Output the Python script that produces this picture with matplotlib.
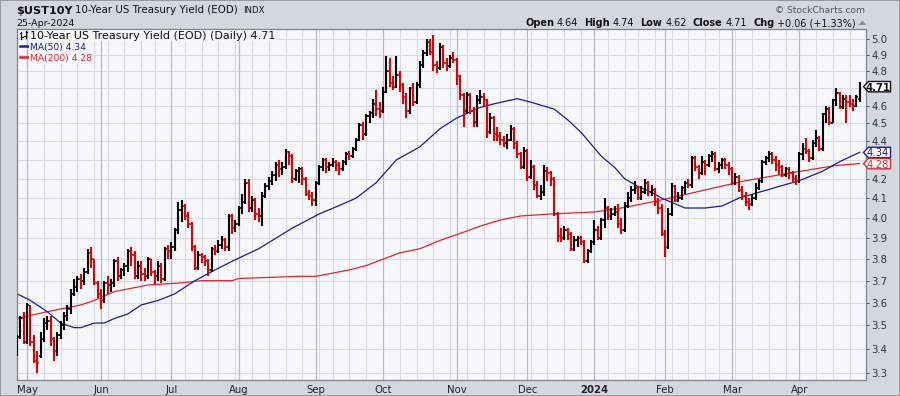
import numpy as np
import pandas as pd
import matplotlib
matplotlib.use("Agg")
import matplotlib.pyplot as plt
from matplotlib.collections import LineCollection
from matplotlib.patches import Polygon, Rectangle
from matplotlib.lines import Line2D

W, H = 900, 396

# ---------------- data ----------------
holidays = ['2023-05-29', '2023-06-19', '2023-07-04', '2023-09-04', '2023-11-23',
            '2023-12-25', '2024-01-01', '2024-01-15', '2024-02-19', '2024-03-29']
dates = pd.bdate_range('2023-04-26', '2024-04-25')
dates = dates[~dates.isin(pd.to_datetime(holidays))]

opens = [
    3.41, 3.45, 3.53,
    3.43, 3.58, 3.43, 3.35, 3.37, 3.44, 3.51, 3.52, 3.44, 3.39, 3.46, 3.50, 3.54, 3.57, 3.64, 3.67, 3.71, 3.70, 3.74, 3.83, 3.80, 3.69,
    3.64, 3.61, 3.69, 3.68, 3.69, 3.79, 3.72, 3.75, 3.77, 3.84, 3.82, 3.72, 3.77, 3.73, 3.72, 3.80, 3.74, 3.72, 3.77, 3.71, 3.85,
    3.84, 3.86, 3.94, 4.04, 4.06, 4.01, 3.97, 3.86, 3.76, 3.82, 3.81, 3.79, 3.75, 3.85, 3.84, 3.87, 3.89, 3.86, 4.01, 3.95,
    3.97, 4.05, 4.08, 4.18, 4.05, 4.09, 4.02, 4.01, 4.11, 4.16, 4.19, 4.22, 4.27, 4.25, 4.26, 4.34, 4.32, 4.20, 4.24, 4.25, 4.20, 4.12, 4.11,
    4.09, 4.18, 4.26, 4.30, 4.26, 4.27, 4.29, 4.27, 4.25, 4.29, 4.33, 4.32, 4.36, 4.41, 4.49, 4.44, 4.54, 4.56, 4.61, 4.58,
    4.57, 4.68, 4.80, 4.73, 4.71, 4.78, 4.72, 4.65, 4.57, 4.70, 4.62, 4.72, 4.84, 4.91, 4.98, 4.92, 4.84, 4.82, 4.95, 4.85, 4.83, 4.88,
    4.87, 4.77, 4.66, 4.57, 4.66, 4.57, 4.51, 4.63, 4.65, 4.63, 4.45, 4.53, 4.44, 4.43, 4.41, 4.39, 4.41, 4.47, 4.39, 4.33, 4.26,
    4.35, 4.21, 4.26, 4.17, 4.11, 4.13, 4.24, 4.23, 4.20, 4.02, 3.91, 3.90, 3.94, 3.92, 3.85, 3.89, 3.90, 3.88, 3.79, 3.84,
    3.88, 3.94, 3.90, 3.99, 4.05, 4.01, 4.02, 4.03, 3.97, 3.94, 4.06, 4.10, 4.14, 4.15, 4.10, 4.13, 4.18, 4.13, 4.14, 4.08, 4.05,
    3.92, 3.86, 4.02, 4.16, 4.09, 4.10, 4.15, 4.18, 4.17, 4.31, 4.26, 4.23, 4.29, 4.27, 4.32, 4.33, 4.25, 4.27, 4.30, 4.27,
    4.25, 4.18, 4.21, 4.14, 4.11, 4.08, 4.07, 4.10, 4.15, 4.19, 4.29, 4.31, 4.33, 4.30, 4.27, 4.26, 4.22, 4.25, 4.23, 4.20,
    4.19, 4.33, 4.36, 4.35, 4.31, 4.39, 4.42, 4.36, 4.55, 4.58, 4.50, 4.63, 4.67, 4.59, 4.64, 4.62, 4.61, 4.60, 4.64,
]
highs = [
    3.46, 3.54, 3.56,
    3.60, 3.59, 3.46, 3.39, 3.47, 3.53, 3.54, 3.54, 3.45, 3.47, 3.52, 3.56, 3.59, 3.66, 3.71, 3.72, 3.73, 3.76, 3.85, 3.86, 3.80, 3.70,
    3.66, 3.70, 3.72, 3.71, 3.80, 3.81, 3.76, 3.78, 3.85, 3.86, 3.84, 3.79, 3.79, 3.76, 3.81, 3.80, 3.75, 3.79, 3.78, 3.86, 3.87,
    3.88, 3.95, 4.08, 4.09, 4.07, 4.03, 3.98, 3.87, 3.84, 3.83, 3.82, 3.80, 3.86, 3.87, 3.89, 3.91, 3.90, 4.02, 4.02, 3.99,
    4.06, 4.12, 4.20, 4.20, 4.11, 4.10, 4.05, 4.13, 4.18, 4.21, 4.24, 4.29, 4.30, 4.29, 4.36, 4.35, 4.33, 4.25, 4.26, 4.26, 4.21, 4.14, 4.13,
    4.19, 4.27, 4.31, 4.31, 4.29, 4.31, 4.30, 4.29, 4.30, 4.34, 4.35, 4.37, 4.42, 4.50, 4.51, 4.55, 4.57, 4.64, 4.69, 4.62,
    4.71, 4.89, 4.88, 4.77, 4.89, 4.80, 4.73, 4.67, 4.71, 4.73, 4.74, 4.86, 4.93, 5.00, 5.00, 5.02, 4.86, 4.97, 4.96, 4.88, 4.90, 4.92,
    4.88, 4.78, 4.67, 4.68, 4.67, 4.59, 4.66, 4.69, 4.67, 4.64, 4.56, 4.54, 4.48, 4.45, 4.43, 4.44, 4.49, 4.48, 4.40, 4.34, 4.37,
    4.36, 4.30, 4.27, 4.19, 4.17, 4.27, 4.26, 4.24, 4.21, 4.03, 3.95, 3.96, 3.95, 3.93, 3.91, 3.91, 3.91, 3.89, 3.85, 3.89,
    3.99, 3.96, 4.00, 4.10, 4.06, 4.05, 4.06, 4.07, 4.00, 4.08, 4.13, 4.16, 4.19, 4.16, 4.16, 4.20, 4.19, 4.17, 4.15, 4.10, 4.07,
    3.94, 4.05, 4.18, 4.17, 4.13, 4.16, 4.19, 4.20, 4.32, 4.32, 4.27, 4.32, 4.30, 4.33, 4.35, 4.34, 4.29, 4.31, 4.31, 4.29,
    4.26, 4.23, 4.22, 4.16, 4.13, 4.10, 4.12, 4.18, 4.20, 4.30, 4.32, 4.35, 4.34, 4.32, 4.30, 4.27, 4.26, 4.26, 4.24, 4.22,
    4.34, 4.39, 4.42, 4.36, 4.41, 4.46, 4.43, 4.56, 4.60, 4.59, 4.64, 4.70, 4.68, 4.66, 4.66, 4.66, 4.64, 4.66, 4.74,
]
lows = [
    3.37, 3.44, 3.42,
    3.42, 3.41, 3.34, 3.30, 3.36, 3.43, 3.48, 3.41, 3.35, 3.37, 3.44, 3.48, 3.52, 3.55, 3.63, 3.65, 3.66, 3.68, 3.73, 3.76, 3.68, 3.62,
    3.57, 3.60, 3.64, 3.65, 3.67, 3.70, 3.71, 3.72, 3.74, 3.77, 3.71, 3.71, 3.70, 3.70, 3.71, 3.72, 3.68, 3.70, 3.69, 3.70, 3.80,
    3.80, 3.84, 3.92, 3.98, 3.99, 3.95, 3.84, 3.75, 3.75, 3.78, 3.77, 3.72, 3.74, 3.82, 3.83, 3.85, 3.84, 3.84, 3.92, 3.93,
    3.96, 4.02, 4.07, 4.03, 4.03, 3.99, 3.98, 3.96, 4.10, 4.14, 4.17, 4.19, 4.21, 4.22, 4.25, 4.27, 4.18, 4.19, 4.18, 4.17, 4.11, 4.09, 4.06,
    4.06, 4.17, 4.24, 4.23, 4.24, 4.26, 4.24, 4.22, 4.24, 4.27, 4.30, 4.31, 4.35, 4.40, 4.41, 4.43, 4.50, 4.53, 4.54, 4.53,
    4.56, 4.67, 4.71, 4.69, 4.70, 4.68, 4.61, 4.53, 4.55, 4.60, 4.61, 4.70, 4.82, 4.89, 4.90, 4.80, 4.79, 4.81, 4.82, 4.80, 4.82, 4.85,
    4.72, 4.63, 4.48, 4.55, 4.55, 4.48, 4.48, 4.61, 4.60, 4.42, 4.44, 4.40, 4.40, 4.38, 4.37, 4.36, 4.40, 4.36, 4.31, 4.25, 4.25,
    4.19, 4.20, 4.14, 4.10, 4.09, 4.11, 4.19, 4.16, 4.01, 3.88, 3.88, 3.89, 3.89, 3.84, 3.84, 3.86, 3.87, 3.78, 3.78, 3.83,
    3.87, 3.89, 3.89, 3.95, 3.99, 3.99, 4.01, 3.95, 3.92, 3.93, 4.05, 4.08, 4.12, 4.09, 4.09, 4.12, 4.11, 4.11, 4.06, 4.02, 3.91,
    3.81, 3.85, 4.01, 4.08, 4.08, 4.09, 4.12, 4.15, 4.15, 4.24, 4.20, 4.22, 4.22, 4.26, 4.29, 4.24, 4.23, 4.25, 4.25, 4.22,
    4.17, 4.17, 4.13, 4.09, 4.06, 4.04, 4.06, 4.09, 4.14, 4.18, 4.27, 4.29, 4.28, 4.24, 4.22, 4.21, 4.21, 4.20, 4.18, 4.17,
    4.18, 4.30, 4.33, 4.29, 4.30, 4.37, 4.35, 4.35, 4.50, 4.49, 4.50, 4.60, 4.58, 4.58, 4.50, 4.59, 4.57, 4.59, 4.62,
]
closes = [
    3.45, 3.53, 3.44,
    3.59, 3.43, 3.35, 3.34, 3.44, 3.51, 3.52, 3.44, 3.39, 3.46, 3.50, 3.54, 3.57, 3.64, 3.67, 3.71, 3.70, 3.74, 3.83, 3.80, 3.69, 3.64,
    3.61, 3.69, 3.68, 3.69, 3.79, 3.72, 3.75, 3.77, 3.84, 3.82, 3.72, 3.77, 3.73, 3.72, 3.80, 3.74, 3.72, 3.77, 3.71, 3.85, 3.84,
    3.86, 3.94, 4.04, 4.06, 4.01, 3.97, 3.86, 3.76, 3.82, 3.81, 3.79, 3.75, 3.85, 3.84, 3.87, 3.89, 3.86, 4.01, 3.95, 3.97,
    4.05, 4.08, 4.18, 4.05, 4.09, 4.02, 4.01, 4.11, 4.16, 4.19, 4.22, 4.27, 4.25, 4.26, 4.34, 4.32, 4.20, 4.24, 4.25, 4.20, 4.12, 4.11, 4.09,
    4.18, 4.26, 4.30, 4.26, 4.27, 4.29, 4.27, 4.25, 4.29, 4.33, 4.32, 4.36, 4.41, 4.49, 4.44, 4.54, 4.56, 4.61, 4.58, 4.57,
    4.68, 4.80, 4.73, 4.71, 4.78, 4.72, 4.65, 4.57, 4.70, 4.62, 4.72, 4.84, 4.91, 4.98, 4.92, 4.84, 4.82, 4.95, 4.85, 4.83, 4.88, 4.87,
    4.77, 4.66, 4.57, 4.66, 4.57, 4.51, 4.63, 4.65, 4.63, 4.45, 4.53, 4.44, 4.43, 4.41, 4.39, 4.41, 4.47, 4.39, 4.33, 4.26, 4.35,
    4.21, 4.26, 4.17, 4.11, 4.13, 4.24, 4.23, 4.20, 4.02, 3.91, 3.90, 3.94, 3.92, 3.85, 3.89, 3.90, 3.88, 3.79, 3.84, 3.88,
    3.94, 3.90, 3.99, 4.05, 4.01, 4.02, 4.03, 3.97, 3.94, 4.06, 4.10, 4.14, 4.15, 4.10, 4.13, 4.18, 4.13, 4.14, 4.08, 4.05, 3.92,
    3.86, 4.02, 4.16, 4.09, 4.10, 4.15, 4.18, 4.17, 4.31, 4.26, 4.23, 4.29, 4.27, 4.32, 4.33, 4.25, 4.27, 4.30, 4.27, 4.25,
    4.18, 4.21, 4.14, 4.11, 4.08, 4.07, 4.10, 4.15, 4.19, 4.29, 4.31, 4.33, 4.30, 4.27, 4.26, 4.22, 4.25, 4.23, 4.20, 4.19,
    4.33, 4.36, 4.35, 4.31, 4.39, 4.42, 4.36, 4.55, 4.58, 4.50, 4.63, 4.67, 4.59, 4.64, 4.62, 4.61, 4.60, 4.65, 4.71,
]

# moving averages (bar index, value)
ma50_idx = [0, 4, 9, 13, 17, 19, 23, 26, 29, 33, 37, 42, 47, 53, 59, 64, 72, 82, 90, 97, 101, 107, 113, 120,
            126, 131, 138, 142, 149, 153, 160, 164, 168, 174, 178, 181, 185, 189, 192, 199, 205, 210, 215,
            221, 227, 233, 240, 245, 251]
ma50_val = [3.64, 3.61, 3.56, 3.51, 3.49, 3.49, 3.51, 3.51, 3.53, 3.55, 3.59, 3.61, 3.64, 3.70, 3.75, 3.79,
            3.85, 3.95, 4.02, 4.07, 4.10, 4.18, 4.30, 4.37, 4.47, 4.53, 4.59, 4.61, 4.64, 4.62, 4.58, 4.52,
            4.45, 4.32, 4.26, 4.20, 4.16, 4.13, 4.10, 4.05, 4.05, 4.06, 4.10, 4.13, 4.16, 4.19, 4.24, 4.29, 4.34]
ma200_idx = [0, 9, 19, 23, 29, 39, 49, 55, 64, 66, 84, 89, 99, 104, 109, 114, 120, 126, 133, 138, 144,
             150, 159, 172, 180, 189, 197, 207, 217, 227, 237, 244, 251]
ma200_val = [3.53, 3.56, 3.59, 3.61, 3.65, 3.68, 3.69, 3.70, 3.70, 3.71, 3.72, 3.72, 3.75, 3.77, 3.80, 3.83,
             3.85, 3.89, 3.93, 3.96, 3.99, 4.01, 4.02, 4.03, 4.05, 4.08, 4.11, 4.15, 4.19, 4.22, 4.25, 4.27, 4.28]

ytick_vals = [3.3, 3.4, 3.5, 3.6, 3.7, 3.8, 3.9, 4.0, 4.1, 4.2, 4.3, 4.4, 4.5, 4.6, 4.7, 4.8, 4.9, 5.0]
hidden_ticks = [4.3, 4.7]   # covered by the value tags on the right

# ---------------- styling ----------------
OUTER = '#d3d7e0'
PLOT_BG = '#f6f7fb'
GRID = '#d9dbe3'
GRID_M = '#b7bbc4'
UP = '#000000'
DOWN = '#e00000'
NAVY = '#1c1c96'
MARED = '#e3242b'
FONT = 'DejaVu Sans'


def fx(x):
    return x / W


def fy(y):
    return 1 - y / H


fig = plt.figure(figsize=(W / 100, H / 100), dpi=100)
fig.patch.set_facecolor(OUTER)

L, R, T, B = 16.7, 865.7, 29.0, 380.0
ax = fig.add_axes([fx(L), fy(B), (R - L) / W, (B - T) / H])
ax.set_facecolor(PLOT_BG)
ax.set_yscale('log')
ax.set_ylim(3.27, 5.06)
n = len(closes)
ax.set_xlim(-0.1, 252.8)

# grid
for v in ytick_vals:
    ax.axhline(v, color=GRID, lw=0.8, zorder=0.5)
month_idx = [i for i in range(1, n) if dates[i].month != dates[i - 1].month]
week_idx = [i for i in range(1, n)
            if dates[i].to_period('W') != dates[i - 1].to_period('W') and i not in month_idx]
for i in week_idx:
    ax.axvline(i, color=GRID, lw=0.8, zorder=0.5)
for i in month_idx:
    ax.axvline(i, color=GRID_M, lw=0.9, zorder=0.6)

# moving averages
ax.plot(ma200_idx, ma200_val, color=MARED, lw=0.9, zorder=2)
ax.plot(ma50_idx, ma50_val, color=NAVY, lw=0.9, zorder=2)

# OHLC bars
xs = np.arange(n)
cols = []
for i in range(n):
    prev = closes[i - 1] if i > 0 else opens[0]
    cols.append(DOWN if closes[i] < prev else UP)
vsegs = [[(xs[i], lows[i]), (xs[i], highs[i])] for i in range(n)]
osegs = [[(xs[i] - 0.5, opens[i]), (xs[i], opens[i])] for i in range(n)]
csegs = [[(xs[i], closes[i]), (xs[i] + 0.5, closes[i])] for i in range(n)]
ax.add_collection(LineCollection(vsegs, colors=cols, linewidths=1.5, zorder=3, capstyle='butt'))
ax.add_collection(LineCollection(osegs, colors=cols, linewidths=1.2, zorder=3, capstyle='butt'))
ax.add_collection(LineCollection(csegs, colors=cols, linewidths=1.2, zorder=3, capstyle='butt'))

# axes ticks
ax.minorticks_off()
ax.yaxis.tick_right()
ax.set_yticks(ytick_vals)
ax.set_yticklabels(['' if v in hidden_ticks else f'{v:.1f}' for v in ytick_vals])
ax.yaxis.set_minor_locator(matplotlib.ticker.NullLocator())
ax.tick_params(axis='y', which='both', length=2.5, width=0.6, pad=1.5, labelsize=7.3,
               colors='#333333', direction='out')
ax.set_xticks(month_idx)
ax.set_xticklabels(['2024' if dates[i].month == 1 else dates[i].strftime('%b') for i in month_idx])
ax.tick_params(axis='x', length=0, pad=3.5, labelsize=7.3, colors='#222222')
for lbl in ax.get_xticklabels():
    lbl.set_fontfamily(FONT)
    if lbl.get_text() == '2024':
        lbl.set_fontweight('bold')
for lbl in ax.get_yticklabels():
    lbl.set_fontfamily(FONT)
for s in ['top', 'left']:
    ax.spines[s].set_color('#7c8089')
    ax.spines[s].set_linewidth(0.9)
for s in ['right', 'bottom']:
    ax.spines[s].set_color('#80848d')
    ax.spines[s].set_linewidth(0.9)
    ax.spines[s].set_linestyle((0, (1.5, 1)))

# legend text inside plot
bb = dict(facecolor=PLOT_BG, edgecolor='none', pad=0.6)
fig.text(fx(30), fy(38.6), '10-Year US Treasury Yield (EOD) (Daily) 4.71', fontsize=8.0,
         family=FONT, color='#111111', va='baseline', ha='left', bbox=bb)
fig.text(fx(29.5), fy(49.8), 'MA(50) 4.34', fontsize=6.6, family=FONT, color=NAVY,
         va='baseline', ha='left', bbox=bb)
fig.text(fx(29.5), fy(60.8), 'MA(200) 4.28', fontsize=6.6, family=FONT, color=MARED,
         va='baseline', ha='left', bbox=bb)
fig.add_artist(Line2D([fx(20), fx(28)], [fy(46.3), fy(46.3)], color=NAVY, lw=1.8))
fig.add_artist(Line2D([fx(20), fx(28)], [fy(57.3), fy(57.3)], color=MARED, lw=1.8))
# small OHLC glyph
for (a, b) in [((21, 31.5), (21, 38.5)), ((19.5, 33), (21, 33)), ((21, 36.5), (22.5, 36.5)),
               ((25.5, 30.5), (25.5, 37.5)), ((24, 36), (25.5, 36)), ((25.5, 32), (27, 32))]:
    fig.add_artist(Line2D([fx(a[0]), fx(b[0])], [fy(a[1]), fy(b[1])], color='#111111', lw=0.9))

# header
fig.text(fx(16), fy(13.6), '$UST10Y', fontsize=8.1, fontweight='bold', family=FONT,
         color='#111111', va='baseline')
fig.text(fx(75), fy(13.4), '10-Year US Treasury Yield (EOD)', fontsize=7.4, family=FONT,
         color='#111111', va='baseline')
fig.text(fx(243), fy(13.2), 'INDX', fontsize=6.2, family=FONT, color='#111111', va='baseline')
fig.text(fx(16), fy(26.2), '25-Apr-2024', fontsize=6.8, family=FONT, color='#111111', va='baseline')
fig.text(fx(865), fy(12.6), '\u00a9 StockCharts.com', fontsize=6.6, family=FONT,
         color='#555555', va='baseline', ha='right')

renderer = fig.canvas.get_renderer()
segs = [('Open', 'bold', 3), ('4.64', 'normal', 6), ('High', 'bold', 3), ('4.74', 'normal', 6),
        ('Low', 'bold', 3), ('4.62', 'normal', 6), ('Close', 'bold', 3), ('4.71', 'normal', 6),
        ('Chg', 'bold', 3), ('+0.06 (+1.33%)', 'normal', 0)]
widths = []
for s, wgt, gap in segs:
    t = fig.text(0, 0, s, fontsize=7.0, fontweight=wgt, family=FONT)
    widths.append(t.get_window_extent(renderer).width)
    t.remove()
total = sum(widths) + sum(g for _, _, g in segs)
xcur = 856 - total
for (s, wgt, gap), wd in zip(segs, widths):
    fig.text(fx(xcur), fy(26), s, fontsize=7.0, fontweight=wgt, family=FONT,
             color='#111111', va='baseline', ha='left')
    xcur += wd + gap
fig.add_artist(Polygon([(fx(858.5), fy(25)), (fx(866.5), fy(25)), (fx(862.5), fy(20.5))],
                       closed=True, facecolor='#8b909a', edgecolor='none'))


# right value tags
def tag(val, edge, txtcol, weight):
    yc = 372.7 - 804 * np.log(val / 3.3)
    x0, x1, hh = 863.5, 890.5, 5.2
    pts = [(x0, yc), (x0 + 5, yc - hh), (x1, yc - hh), (x1, yc + hh), (x0 + 5, yc + hh)]
    fig.add_artist(Polygon([(fx(a), fy(b)) for a, b in pts], closed=True,
                           facecolor='white', edgecolor=edge, lw=1.0))
    fig.text(fx(878), fy(yc), f'{val:.2f}', fontsize=7.3, fontweight=weight, family=FONT,
             color=txtcol, ha='center', va='center_baseline')


tag(closes[-1], '#111111', '#111111', 'bold')
tag(ma50_val[-1], NAVY, NAVY, 'normal')
tag(ma200_val[-1], MARED, MARED, 'normal')

# outer border
fig.add_artist(Rectangle((0, 0), 1, 1, transform=fig.transFigure, fill=False,
                         edgecolor='#8a8e97', lw=1.2))

fig.savefig('out.png', dpi=100, facecolor=fig.get_facecolor())
